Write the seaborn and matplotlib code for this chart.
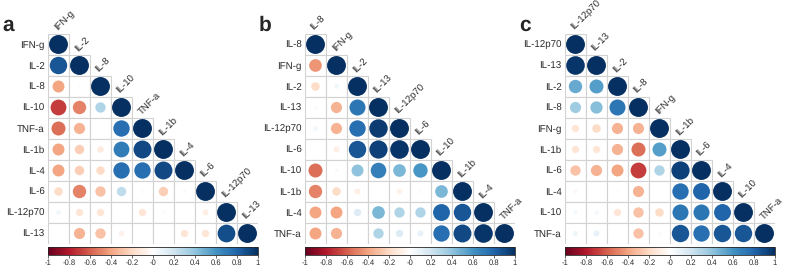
import numpy as np
import pandas as pd
import seaborn as sns
import matplotlib.pyplot as plt
import matplotlib as mpl
from matplotlib.colors import LinearSegmentedColormap
from matplotlib.patches import Rectangle

sns.set_style('white')
plt.rcParams['font.family'] = ['Liberation Sans', 'DejaVu Sans']
plt.rcParams['text.hinting'] = 'no_hinting'

# lower triangles of the three correlation matrices (row by row, diagonal included)
labels_a = ['IFN-g', 'IL-2', 'IL-8', 'IL-10', 'TNF-a', 'IL-1b', 'IL-4', 'IL-6', 'IL-12p70', 'IL-13']
corr_a = [
    [1],
    [0.85, 1],
    [-0.4, 0.02, 1],
    [-0.7, -0.5, 0.3, 1],
    [-0.55, -0.35, 0.0, 0.75, 1],
    [-0.4, -0.25, -0.12, 0.7, 0.9, 1],
    [-0.4, -0.25, -0.2, 0.75, 0.75, 0.9, 1],
    [-0.2, -0.5, -0.3, 0.25, -0.03, -0.25, 0.03, 1],
    [0.06, -0.15, -0.15, -0.02, -0.15, -0.03, -0.02, -0.1, 1],
    [0.0, -0.35, -0.3, -0.08, 0.0, -0.01, -0.15, -0.15, 0.88, 1],
]

labels_b = ['IL-8', 'IFN-g', 'IL-2', 'IL-13', 'IL-12p70', 'IL-6', 'IL-10', 'IL-1b', 'IL-4', 'TNF-a']
corr_b = [
    [1],
    [-0.45, 1],
    [-0.2, 0.06, 1],
    [0.03, -0.35, 0.72, 1],
    [0.06, -0.35, 0.75, 0.95, 1],
    [0.0, -0.1, 0.85, 0.93, 0.97, 1],
    [-0.55, 0.03, 0.4, 0.68, 0.45, 0.58, 1],
    [-0.5, -0.2, -0.1, 0.0, -0.08, -0.03, 0.45, 1],
    [-0.4, -0.4, 0.15, 0.45, 0.3, 0.3, 0.8, 0.85, 1],
    [-0.4, -0.35, 0.0, 0.3, 0.15, 0.1, 0.75, 0.9, 0.97, 1],
]

labels_c = ['IL-12p70', 'IL-13', 'IL-2', 'IL-8', 'IFN-g', 'IL-1b', 'IL-6', 'IL-4', 'IL-10', 'TNF-a']
corr_c = [
    [1],
    [0.97, 1],
    [0.5, 0.55, 1],
    [0.35, 0.42, 0.72, 1],
    [-0.15, -0.2, -0.35, -0.35, 1],
    [-0.15, -0.15, -0.35, -0.55, 0.55, 1],
    [-0.3, -0.35, -0.4, -0.7, 0.3, 0.93, 1],
    [-0.05, -0.02, 0.02, -0.35, 0.0, 0.75, 0.8, 1],
    [0.05, 0.05, -0.15, -0.3, -0.2, 0.72, 0.72, 0.8, 1],
    [0.07, 0.1, 0.01, -0.3, 0.03, 0.85, 0.75, 0.85, 0.85, 1],
]

panels = [('a', labels_a, corr_a), ('b', labels_b, corr_b), ('c', labels_c, corr_c)]

cmap = LinearSegmentedColormap.from_list('RdBu_cp', [
    '#67001F', '#B2182B', '#D6604D', '#F4A582', '#FDDBC7', '#FFFFFF',
    '#D1E5F0', '#92C5DE', '#4393C3', '#2166AC', '#053061'], N=200)

W, H = 787, 268
fig = plt.figure(figsize=(W / 100, H / 100), dpi=100)

lefts = [48, 305, 565]
cell_px = 21
grid_w = cell_px * 10
top_px = 34
cell_pt = cell_px * 72 / 100
smax = (0.9 * cell_pt) ** 2
txt_col = '#2a2a2a'

for (letter, labels, rows), left in zip(panels, lefts):
    n = len(labels)
    df = pd.DataFrame([(j + 0.5, i + 0.5, rows[i][j]) for i in range(n) for j in range(i + 1)],
                      columns=['x', 'y', 'r'])
    df['absr'] = df['r'].abs()

    ax = fig.add_axes([left / W, (H - top_px - grid_w) / H, grid_w / W, grid_w / H])
    # grey cell borders, lower triangle only
    for i in range(n):
        for j in range(i + 1):
            ax.add_patch(Rectangle((j, i), 1, 1, facecolor='white', edgecolor='#d2d2d2',
                                   linewidth=0.8, zorder=0))
    sns.scatterplot(data=df, x='x', y='y', hue='r', size='absr', palette=cmap,
                    hue_norm=(-1, 1), size_norm=(0, 1), sizes=(0, smax),
                    linewidth=0, legend=False, ax=ax, zorder=2)
    ax.set_xlim(0, n)
    ax.set_ylim(n, 0)
    ax.set_xlabel('')
    ax.set_ylabel('')
    ax.set_xticks([])
    ax.set_yticks(np.arange(n) + 0.5)
    ax.set_yticklabels(labels)
    ax.tick_params(axis='y', length=0, pad=2.5, labelsize=7, labelcolor=txt_col)
    for s in ax.spines.values():
        s.set_visible(False)
    for j, lab in enumerate(labels):
        ax.text(j + 0.45, j - 0.15, lab, rotation=45, rotation_mode='anchor',
                ha='left', va='baseline', fontsize=6.9, color=txt_col, clip_on=False)

    cax = fig.add_axes([left / W, (H - 255) / H, grid_w / W, 8 / H])
    cb = mpl.colorbar.ColorbarBase(cax, cmap=cmap, norm=mpl.colors.Normalize(-1, 1),
                                   orientation='horizontal')
    ticks = np.round(np.arange(-1, 1.01, 0.2), 1)
    cb.set_ticks(ticks)
    cb.set_ticklabels(['%g' % t for t in ticks])
    cax.tick_params(labelsize=5.5, length=2, width=0.5, pad=1, labelcolor=txt_col)
    cb.outline.set_linewidth(0.6)

    fig.text((left - 46) / W, 1 - 31 / H, letter, fontsize=15, fontweight='bold',
             ha='left', va='baseline')

fig.savefig('out.png', dpi=100)
